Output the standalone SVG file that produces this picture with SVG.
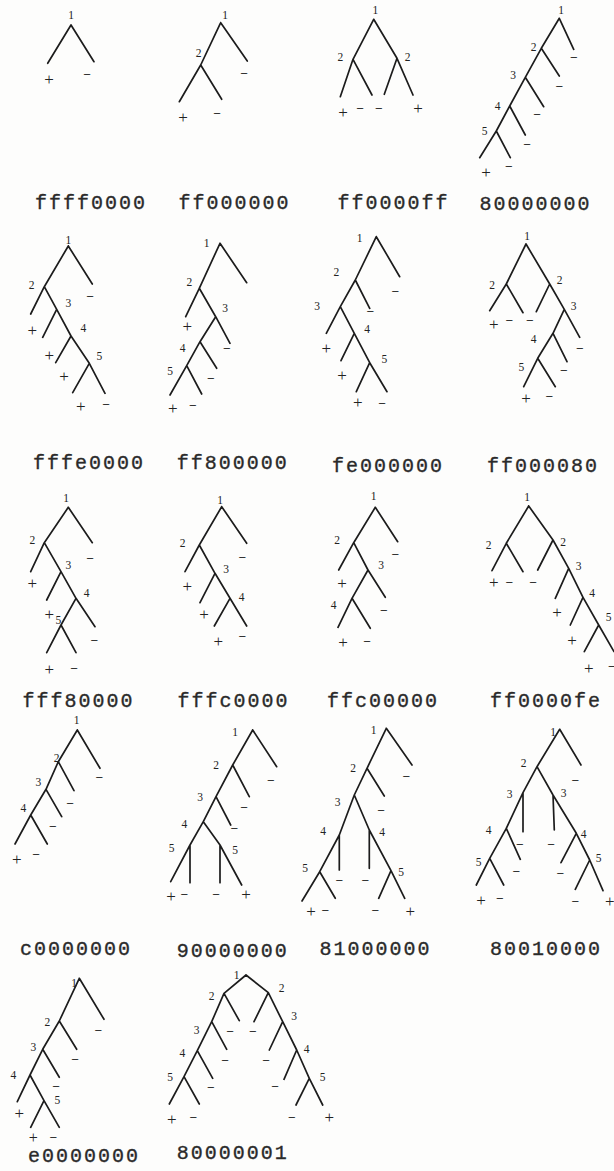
<svg xmlns="http://www.w3.org/2000/svg" width="614" height="1171" viewBox="0 0 614 1171">
<style>
.bg{fill:#fdfdfc}
.e{stroke:#1c1c1c;stroke-width:1.7;fill:none;stroke-linecap:round;stroke-linejoin:round}
.n{font-family:"Liberation Serif",serif;font-size:11.5px;text-anchor:middle;dominant-baseline:central;fill:#222}
.p{font-family:"Liberation Serif",serif;font-size:17px;text-anchor:middle;dominant-baseline:central;fill:#222}
.m{font-family:"Liberation Sans",sans-serif;font-size:13px;text-anchor:middle;dominant-baseline:central;fill:#333}
.c{font-family:"Liberation Mono",monospace;font-size:20px;letter-spacing:2px;text-anchor:middle;fill:#2a2a2a;stroke:#2a2a2a;stroke-width:0.35}
</style>
<rect class="bg" width="614" height="1171"/>

<g id="connectors">
<path class="e" d="M71,25L47.7,63.3M71,25L94,61.7"/>
<path class="e" d="M220.7,22.7L247.3,61M220.7,22.7L200.7,65L179.3,101.7M200.7,65L221.7,99.3"/>
<path class="e" d="M373.7,19.3L353,59.3L340.3,96.7M353,59.3L372,95M373.7,19.3L397,58.3L413,95M397,58.3L384.3,94.3"/>
<path class="e" d="M559.3,18.3L573.7,49.3M559.3,18.3L541.3,48.3L559.3,76M541.3,48.3L525.3,77.3L543.7,106.7M525.3,77.3L509.7,106L525.3,135M509.7,106L496.3,131L479.7,157.7M496.3,131L510.3,157.7"/>

<path class="e" d="M68.3,246L92.3,284M68.3,246L44.3,286.7L30.7,314M44.3,286.7L56.7,309.3L42.7,337.3M56.7,309.3L71,336L55.7,362.7M71,336L89.3,363.3L72.7,392.7M89.3,363.3L105,393.3"/>
<path class="e" d="M220,243.3L246.7,282.7M220,243.3L199.3,288.3L185.7,316.7M199.3,288.3L215.7,316.7L230,343.3M215.7,316.7L200,341.7L216.7,368.3M200,341.7L186.7,365.7L170,395M186.7,365.7L201.7,394"/>
<path class="e" d="M376.3,236.7L399.7,276.7M376.3,236.7L355.3,280L369.7,308.3M355.3,280L340.3,306.7L326.3,333.3M340.3,306.7L354.3,333.3L341,360.7M354.3,333.3L369.7,362.7L356.3,391.7M369.7,362.7L387,391.7"/>
<path class="e" d="M526,244L506.3,284L489.7,310.7M506.3,284L523,312.7M526,244L549.7,284L536.3,311.7M549.7,284L564.3,309.3L579.7,337.3M564.3,309.3L553,333.3L567,361.7M553,333.3L537.7,358.3L523.7,386.7M537.7,358.3L555.3,386.7"/>

<path class="e" d="M68.3,507.3L92.3,542.7M68.3,507.3L44.3,542.7L30.7,571.7M44.3,542.7L61,571.7L46.7,600M61,571.7L76,598.3L95,626.7M76,598.3L61,625L46.7,652.7M61,625L76,652.7"/>
<path class="e" d="M221.7,506.7L246.7,543.3M221.7,506.7L199.3,545L185,571.7M199.3,545L215,573.3L200,602.7M215,573.3L230,598.3L214.3,626M230,598.3L246.7,626"/>
<path class="e" d="M375.3,507.3L397.7,541.7M375.3,507.3L353.7,542.7L338.7,570M353.7,542.7L368,570L385.3,597.3M368,570L352,598.3L338,627.3M352,598.3L370.3,628.3"/>
<path class="e" d="M528.7,506L506.3,543.3L492,570.7M506.3,543.3L523,571.7M528.7,506L553,540L537.7,570M553,540L568.7,568.3L555.3,598.3M568.7,568.3L583,597.3L570.3,625M583,597.3L598.7,625L584.3,651.7M598.7,625L614,651.7"/>

<path class="e" d="M77.3,730L100,768.3M77.3,730L58.3,761.7L74,790.7M58.3,761.7L46,789.3L61.7,816.7M46,789.3L30.7,815L15,844M30.7,815L47.3,844"/>
<path class="e" d="M252.7,730L276.7,766.7M252.7,730L232.7,765L249.3,796.7M232.7,765L216,796.7L230.7,825M216,796.7L203.3,821.7L190,845L170.7,881.7M190,845L190,882.7M203.3,821.7L220,845L241.7,885M220,845L220,882.7"/>
<path class="e" d="M386.3,728.3L412,765M386.3,728.3L367,768.3L384.3,796M367,768.3L354.3,795L339.3,835L319.7,871.7L302,901M319.7,871.7L335.3,898.3M339.3,835L339.3,870M354.3,795L369.3,830L391,870.7L404.7,898.3M369.3,830L369.3,868.3M391,870.7L378.7,898.3"/>
<path class="e" d="M559.7,729.3L581,765M559.7,729.3L537,766.7L523,792.7L506.3,828.3L489.7,858.3L476.3,885M489.7,858.3L503.7,885M506.3,828.3L520.3,859.3M523,792.7L523,831.7M537,766.7L553,795L576.3,833.3L589.7,860L603,890.7M589.7,860L575.3,889.3M576.3,833.3L561,862.7M553,795L554.3,830"/>

<path class="e" d="M79.3,978.3L104,1019.3M79.3,978.3L59.3,1021L76.7,1049.3M59.3,1021L42.7,1049.3L59.3,1077.3M42.7,1049.3L30,1075L17.3,1101.7M30,1075L44,1100.7L30.7,1127.3M44,1100.7L59.3,1127.3"/>
<path class="e" d="M246,975L224,993.3L239.3,1020.7M224,993.3L211.7,1021.7L226.7,1049.3M211.7,1021.7L197.3,1050.7L212.7,1078.3M197.3,1050.7L184,1076.7L169.3,1104M184,1076.7L199.3,1104M246,975L268.3,992.7L254,1021.7M268.3,992.7L282.7,1021.7L269.3,1050M282.7,1021.7L296.7,1050L284,1079.3M296.7,1050L309.3,1078.3L296,1105M309.3,1078.3L322.7,1105"/>
</g>

<g id="t-ffff0000">
<text class="n" x="71" y="15">1</text>
<text class="p" x="49" y="79">+</text><text class="m" x="87" y="74">−</text>
<text class="c" x="91" y="209">ffff0000</text>
</g>
<g id="t-ff000000">
<text class="n" x="225" y="15">1</text><text class="n" x="198.7" y="53">2</text>
<text class="m" x="244" y="73">−</text><text class="p" x="183" y="117">+</text><text class="m" x="217" y="113">−</text>
<text class="c" x="234.5" y="209">ff000000</text>
</g>
<g id="t-ff0000ff">
<text class="n" x="375.3" y="10">1</text><text class="n" x="340.3" y="57">2</text><text class="n" x="407.7" y="57">2</text>
<text class="p" x="343" y="112">+</text><text class="m" x="360" y="108">−</text><text class="m" x="378.7" y="108">−</text><text class="p" x="418" y="108">+</text>
<text class="c" x="393.5" y="209">ff0000ff</text>
</g>
<g id="t-80000000">
<text class="n" x="561" y="10">1</text><text class="n" x="533.7" y="47">2</text><text class="m" x="573.7" y="57">−</text>
<text class="n" x="513" y="75">3</text><text class="m" x="559.3" y="86">−</text>
<text class="n" x="497.7" y="106">4</text><text class="m" x="537" y="114">−</text>
<text class="n" x="484.7" y="131">5</text><text class="m" x="527" y="144">−</text>
<text class="p" x="486" y="172">+</text><text class="m" x="508.7" y="166">−</text>
<text class="c" x="535.5" y="210">80000000</text>
</g>

<g id="t-fffe0000">
<text class="n" x="68.3" y="240">1</text><text class="n" x="31.7" y="285">2</text><text class="m" x="90" y="296.7">−</text>
<text class="n" x="68.3" y="303.3">3</text><text class="p" x="32.3" y="330">+</text><text class="n" x="83.3" y="328.3">4</text>
<text class="p" x="49.3" y="355">+</text><text class="n" x="99.3" y="356">5</text><text class="p" x="64" y="376">+</text>
<text class="p" x="80.7" y="406.7">+</text><text class="m" x="106" y="404">−</text>
<text class="c" x="89" y="469">fffe0000</text>
</g>
<g id="t-ff800000">
<text class="n" x="206.7" y="242.7">1</text><text class="n" x="189.3" y="281.7">2</text><text class="n" x="225" y="308.3">3</text>
<text class="p" x="187.3" y="326.7">+</text><text class="n" x="182.7" y="347.7">4</text><text class="m" x="226.7" y="348.3">−</text>
<text class="n" x="170" y="371">5</text><text class="m" x="210.7" y="378.3">−</text>
<text class="p" x="172.7" y="408.3">+</text><text class="m" x="192.7" y="405">−</text>
<text class="c" x="232.7" y="469">ff800000</text>
</g>
<g id="t-fe000000">
<text class="n" x="359.7" y="238.3">1</text><text class="n" x="336.3" y="271.7">2</text><text class="m" x="395.3" y="291.7">−</text>
<text class="n" x="317" y="306">3</text><text class="m" x="370.3" y="311.7">−</text><text class="n" x="367" y="329.3">4</text>
<text class="p" x="326.3" y="348.3">+</text><text class="n" x="384.3" y="359.3">5</text><text class="p" x="342" y="375">+</text>
<text class="p" x="357.7" y="402.7">+</text><text class="m" x="382" y="403.3">−</text>
<text class="c" x="388" y="472">fe000000</text>
</g>
<g id="t-ff000080">
<text class="n" x="527" y="236">1</text><text class="n" x="492" y="285">2</text><text class="n" x="559.7" y="280">2</text>
<text class="n" x="573.7" y="306">3</text><text class="p" x="493.7" y="324">+</text><text class="m" x="509.3" y="320">−</text><text class="m" x="529.7" y="320">−</text>
<text class="n" x="533.7" y="339.3">4</text><text class="m" x="579.7" y="348.3">−</text>
<text class="n" x="521.3" y="366.7">5</text><text class="m" x="563.7" y="370">−</text>
<text class="p" x="526" y="398.3">+</text><text class="m" x="549.3" y="396.7">−</text>
<text class="c" x="543" y="472">ff000080</text>
</g>

<g id="t-fff80000">
<text class="n" x="66" y="498.3">1</text><text class="n" x="32.3" y="540">2</text><text class="m" x="90" y="558.3">−</text>
<text class="n" x="68.3" y="565">3</text><text class="p" x="32.3" y="583.3">+</text><text class="n" x="86.7" y="592.7">4</text>
<text class="p" x="49.3" y="614.3">+</text><text class="n" x="58.3" y="620">5</text><text class="m" x="94.3" y="640">−</text>
<text class="p" x="49.3" y="669.3">+</text><text class="m" x="74" y="668.3">−</text>
<text class="c" x="78.5" y="707">fff80000</text>
</g>
<g id="t-fffc0000">
<text class="n" x="220" y="500">1</text><text class="n" x="182.7" y="543.3">2</text><text class="m" x="242.3" y="557.7">−</text>
<text class="n" x="226" y="569.3">3</text><text class="p" x="187.3" y="586.7">+</text><text class="n" x="241.7" y="596.7">4</text>
<text class="p" x="204" y="614">+</text><text class="p" x="218.3" y="641.7">+</text><text class="m" x="242.3" y="636">−</text>
<text class="c" x="233.5" y="707">fffc0000</text>
</g>
<g id="t-ffc00000">
<text class="n" x="373.7" y="496">1</text><text class="n" x="337" y="540">2</text><text class="m" x="395.3" y="554">−</text>
<text class="n" x="381" y="565">3</text><text class="p" x="342" y="583.3">+</text><text class="n" x="333.7" y="605">4</text>
<text class="m" x="383.7" y="610">−</text><text class="p" x="343" y="642.7">+</text><text class="m" x="367" y="641.7">−</text>
<text class="c" x="383" y="707">ffc00000</text>
</g>
<g id="t-ff0000fe">
<text class="n" x="527" y="496.7">1</text><text class="n" x="488.7" y="545">2</text><text class="n" x="563" y="541.7">2</text>
<text class="n" x="578.7" y="566">3</text><text class="p" x="493.7" y="582.7">+</text><text class="m" x="509.3" y="582.7">−</text><text class="m" x="533" y="582.7">−</text>
<text class="n" x="592" y="593.3">4</text><text class="p" x="557" y="612.7">+</text><text class="n" x="608.7" y="616.7">5</text>
<text class="p" x="572" y="640">+</text><text class="p" x="588.7" y="668.3">+</text><text class="m" x="611.7" y="666.7">−</text>
<text class="c" x="546" y="707">ff0000fe</text>
</g>

<g id="t-c0000000">
<text class="n" x="76.7" y="720">1</text><text class="n" x="56.7" y="758.3">2</text><text class="m" x="99.3" y="777.3">−</text>
<text class="n" x="38.3" y="781.7">3</text><text class="m" x="70" y="803.3">−</text>
<text class="n" x="23.3" y="808.3">4</text><text class="m" x="52.7" y="826.7">−</text>
<text class="p" x="16.7" y="859.3">+</text><text class="m" x="36" y="854">−</text>
<text class="c" x="76" y="955">c0000000</text>
</g>
<g id="t-90000000">
<text class="n" x="235" y="731.7">1</text><text class="n" x="216" y="765">2</text><text class="m" x="270.7" y="780">−</text>
<text class="n" x="200" y="796.7">3</text><text class="m" x="244" y="807.3">−</text>
<text class="n" x="184.3" y="824">4</text><text class="m" x="234.3" y="828.3">−</text>
<text class="n" x="171.7" y="848.3">5</text><text class="n" x="235" y="850">5</text>
<text class="p" x="171" y="896.7">+</text><text class="m" x="184.3" y="894">−</text><text class="m" x="216" y="894">−</text><text class="p" x="246" y="894">+</text>
<text class="c" x="232.7" y="957">90000000</text>
</g>
<g id="t-81000000">
<text class="n" x="373.7" y="730">1</text><text class="n" x="353" y="768.3">2</text><text class="m" x="406.3" y="776.7">−</text>
<text class="n" x="337.7" y="801.7">3</text><text class="m" x="381" y="810">−</text>
<text class="n" x="323" y="831">4</text><text class="n" x="382" y="831.7">4</text>
<text class="n" x="305" y="868.3">5</text><text class="n" x="401" y="871.7">5</text>
<text class="m" x="339.3" y="880">−</text><text class="m" x="365.3" y="880">−</text>
<text class="p" x="311" y="911.7">+</text><text class="m" x="325.3" y="910">−</text><text class="m" x="375.3" y="910">−</text><text class="p" x="410.3" y="911.7">+</text>
<text class="c" x="375.5" y="955">81000000</text>
</g>
<g id="t-80010000">
<text class="n" x="553" y="731.7">1</text><text class="n" x="523.7" y="763.3">2</text><text class="m" x="575.3" y="780">−</text>
<text class="n" x="509.7" y="794">3</text><text class="n" x="563.7" y="793.3">3</text>
<text class="n" x="488.7" y="830">4</text><text class="m" x="519.7" y="844">−</text><text class="m" x="551" y="844">−</text><text class="n" x="583.7" y="834.3">4</text>
<text class="n" x="478.7" y="861.7">5</text><text class="n" x="598.7" y="858.3">5</text>
<text class="m" x="516.3" y="871.7">−</text><text class="m" x="560.3" y="873.3">−</text>
<text class="p" x="481" y="900">+</text><text class="m" x="499.7" y="898.3">−</text><text class="m" x="575.3" y="901.7">−</text><text class="p" x="609.7" y="901.7">+</text>
<text class="c" x="546" y="955">80010000</text>
</g>

<g id="t-e0000000">
<text class="n" x="74" y="983.3">1</text><text class="n" x="47.3" y="1021.7">2</text><text class="m" x="98.3" y="1030">−</text>
<text class="n" x="33.3" y="1047.3">3</text><text class="m" x="75" y="1059.3">−</text>
<text class="n" x="13.3" y="1075">4</text><text class="m" x="56" y="1086">−</text><text class="n" x="57.3" y="1100">5</text>
<text class="p" x="19.3" y="1113.3">+</text><text class="p" x="33.3" y="1137.5" style="font-size:16px">+</text><text class="m" x="53.3" y="1137">−</text>
<text class="c" x="84" y="1162">e0000000</text>
</g>
<g id="t-80000001">
<text class="n" x="236.7" y="975">1</text><text class="n" x="211.7" y="996">2</text><text class="n" x="281.7" y="988.3">2</text>
<text class="n" x="196.7" y="1030">3</text><text class="n" x="294" y="1016">3</text>
<text class="m" x="230" y="1031.7">−</text><text class="m" x="252.7" y="1031.7">−</text>
<text class="n" x="182.3" y="1052.7">4</text><text class="n" x="306.7" y="1049.3">4</text>
<text class="m" x="225" y="1060">−</text><text class="m" x="266" y="1060">−</text>
<text class="n" x="170" y="1077.3">5</text><text class="n" x="322.7" y="1076.7">5</text>
<text class="m" x="210.7" y="1087.3">−</text><text class="m" x="275" y="1086.7">−</text>
<text class="p" x="171.7" y="1119.3">+</text><text class="m" x="193.3" y="1117.3">−</text><text class="m" x="291.7" y="1117.3">−</text><text class="p" x="329.3" y="1117.3">+</text>
<text class="c" x="232.7" y="1159">80000001</text>
</g>
</svg>
